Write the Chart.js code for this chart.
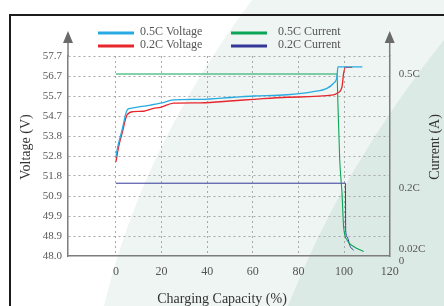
<!DOCTYPE html>
<html>
<head>
<meta charset="utf-8">
<script src="https://cdn.jsdelivr.net/npm/chart.js@4.4.1/dist/chart.umd.min.js"></script>
<style>
  html, body { margin: 0; padding: 0; background: #fff; }
  canvas { display: block; }
</style>
</head>
<body>
<canvas id="charge-chart" width="444" height="306"></canvas>
<script>
// Charging capacity (%) / voltage (V)
const capacity05V = [0, 0.5, 2.7, 4.9, 6.4, 10.7, 15.1, 19.5, 25.3, 37, 51.5, 60.3, 75, 86.5, 92.5, 95.4, 96.9, 97.3, 108];
const voltage05 = [52.8, 53.14, 54.11, 55.08, 55.16, 55.24, 55.32, 55.41, 55.57, 55.6, 55.7, 55.76, 55.82, 55.97, 56.13, 56.38, 56.7, 57.17, 57.17];
const capacity02V = [0, 1.2, 2.7, 4.9, 7.8, 12.2, 16.4, 19.5, 25.3, 37, 51.6, 60.4, 75, 95.4, 96.9, 99.1, 99.8, 100.6, 103.6];
const voltage02 = [52.57, 53.3, 53.95, 54.84, 55.0, 55.02, 55.16, 55.21, 55.41, 55.43, 55.53, 55.6, 55.7, 55.81, 55.89, 56.21, 56.86, 57.15, 57.15];

// Current in units of C
const capacity05I = [0, 96.9, 97.3, 98.1, 99.1, 99.8, 101.3, 104.2, 108.6];
const current05 = [0.5, 0.5, 0.42, 0.264, 0.172, 0.08, 0.044, 0.026, 0.012];
const capacity02I = [0, 100.6, 100.7, 101.3, 102.7, 104.2];
const current02 = [0.2, 0.2, 0.071, 0.053, 0.026, 0.016];

const seriesNames = ['0.5C Voltage', '0.2C Voltage', '0.5C Current', '0.2C Current'];
const seriesColors = ['#29abe2', '#e8262d', '#0aa556', '#34379a'];

const capacityTicks = [0, 20, 40, 60, 80, 100, 120];
const voltageTicks = [48.0, 48.97, 49.94, 50.91, 51.88, 52.85, 53.82, 54.79, 55.76, 56.73, 57.7];
const voltageLabels = ['48.0', '48.9', '49.9', '50.9', '51.8', '52.8', '53.8', '54.7', '55.7', '56.7', '57.7'];
const currentTicks = [0, 0.02, 0.2, 0.5];
const currentLabels = [['', '0'], '0.02C', ['', '0.2C'], '0.5C'];

const xTitle = 'Charging Capacity (%)';
const leftTitle = 'Voltage (V)';
const rightTitle = 'Current (A)';

const toPoints = (xs, ys) => xs.map((x, i) => ({ x: x, y: ys[i] }));
const serif = 'Liberation Serif';

// background shapes, frame, arrows, axis titles and legend
const decor = {
    id: 'decor',
    beforeDraw(chart) {
        const { ctx, width, height } = chart;
        ctx.save();
        ctx.fillStyle = '#ffffff';
        ctx.fillRect(0, 0, width, height);
        ctx.fillStyle = '#eef5f2';
        ctx.beginPath();
        ctx.moveTo(252, 0);
        ctx.quadraticCurveTo(142, 147, 104, 306);
        ctx.lineTo(width, height);
        ctx.lineTo(width, 0);
        ctx.closePath();
        ctx.fill();
        ctx.fillStyle = '#dceae5';
        ctx.beginPath();
        ctx.moveTo(460, 20);
        ctx.quadraticCurveTo(346, 157, 288, 306);
        ctx.lineTo(width, height);
        ctx.closePath();
        ctx.fill();
        ctx.fillStyle = '#1c1c1c';
        ctx.fillRect(9, 14, width - 9, 2);
        ctx.fillRect(9, 14, 2, height - 14);
        ctx.restore();
    },
    afterDraw(chart) {
        const { ctx } = chart;
        const { left, right, top } = chart.chartArea;
        ctx.save();
        [left, right].forEach(x => {
            ctx.strokeStyle = '#7d7d7d';
            ctx.lineWidth = 1.5;
            ctx.beginPath();
            ctx.moveTo(x, top);
            ctx.lineTo(x, 42);
            ctx.stroke();
            ctx.fillStyle = '#6a6a6a';
            ctx.beginPath();
            ctx.moveTo(x, 31);
            ctx.lineTo(x - 5, 43);
            ctx.lineTo(x + 5, 43);
            ctx.closePath();
            ctx.fill();
        });

        ctx.fillStyle = '#333';
        ctx.font = '14px "' + serif + '"';
        ctx.textAlign = 'center';
        ctx.textBaseline = 'middle';
        ctx.save();
        ctx.translate(26, 147);
        ctx.rotate(-Math.PI / 2);
        ctx.fillText(leftTitle, 0, 0);
        ctx.restore();
        ctx.save();
        ctx.translate(435, 147);
        ctx.rotate(-Math.PI / 2);
        ctx.fillText(rightTitle, 0, 0);
        ctx.restore();
        ctx.textBaseline = 'alphabetic';
        ctx.fillText(xTitle, 222, 303);

        // legend in two columns
        const spots = [[98, 33, 140], [98, 46, 140], [231, 33, 278], [231, 46, 278]];
        ctx.font = '12px "' + serif + '"';
        ctx.textAlign = 'left';
        ctx.textBaseline = 'middle';
        chart.data.datasets.forEach((ds, i) => {
            const [lx, ly, tx] = spots[i];
            ctx.fillStyle = ds.borderColor;
            ctx.fillRect(lx, ly - 1.5, 36, 3);
            ctx.fillStyle = '#555';
            ctx.fillText(ds.label, tx, ly - 1);
        });
        ctx.restore();
    }
};

const tickFont = { family: serif, size: 11 };
const gridGrey = '#a8a8a8';

new Chart(document.getElementById('charge-chart').getContext('2d'), {
    type: 'line',
    data: {
        datasets: [
            { label: seriesNames[0], data: toPoints(capacity05V, voltage05), borderColor: seriesColors[0], yAxisID: 'y' },
            { label: seriesNames[1], data: toPoints(capacity02V, voltage02), borderColor: seriesColors[1], yAxisID: 'y' },
            { label: seriesNames[2], data: toPoints(capacity05I, current05), borderColor: seriesColors[2], borderWidth: 1.1, yAxisID: 'y1' },
            { label: seriesNames[3], data: toPoints(capacity02I, current02), borderColor: seriesColors[3], borderWidth: 1, yAxisID: 'y1' }
        ]
    },
    options: {
        responsive: false,
        animation: false,
        layout: { padding: { top: 56 } },
        elements: {
            point: { radius: 0 },
            line: { borderWidth: 1.3, cubicInterpolationMode: 'monotone' }
        },
        plugins: { legend: { display: false }, tooltip: { enabled: false } },
        scales: {
            x: {
                type: 'linear',
                min: -21,
                max: 120,
                afterBuildTicks: s => { s.ticks = capacityTicks.map(v => ({ value: v })); },
                afterFit: s => { s.height = 50; },
                grid: {
                    drawTicks: false,
                    lineWidth: 1,
                    color: c => (c.tick && c.tick.value === 120) ? 'rgba(0,0,0,0)' : gridGrey
                },
                border: { color: '#7d7d7d', width: 1.5, dash: [2, 3] },
                ticks: { autoSkip: false, maxRotation: 0, padding: 9, color: '#555', font: { family: serif, size: 12 } }
            },
            y: {
                position: 'left',
                min: 48,
                max: 57.7,
                afterBuildTicks: s => { s.ticks = voltageTicks.map(v => ({ value: v })); },
                afterFit: s => { s.width = 68; },
                grid: {
                    drawTicks: false,
                    lineWidth: 1,
                    color: c => c.index === 0 ? 'rgba(0,0,0,0)' : gridGrey
                },
                border: { color: '#7d7d7d', width: 1.5, dash: [2, 3] },
                ticks: {
                    autoSkip: false,
                    padding: 6,
                    color: '#555',
                    font: tickFont,
                    callback: (v, i) => voltageLabels[i]
                }
            },
            y1: {
                position: 'right',
                min: 0,
                max: 0.5495,
                afterBuildTicks: s => { s.ticks = currentTicks.map(v => ({ value: v })); },
                afterFit: s => { s.width = 54.3; },
                grid: { display: false, drawTicks: false },
                border: { color: '#7d7d7d', width: 1.5 },
                ticks: {
                    autoSkip: false,
                    padding: 9,
                    color: '#555',
                    font: { family: serif, size: 11, lineHeight: 0.9 },
                    callback: (v, i) => currentLabels[i]
                }
            }
        }
    },
    plugins: [decor]
});
</script>
</body>
</html>
